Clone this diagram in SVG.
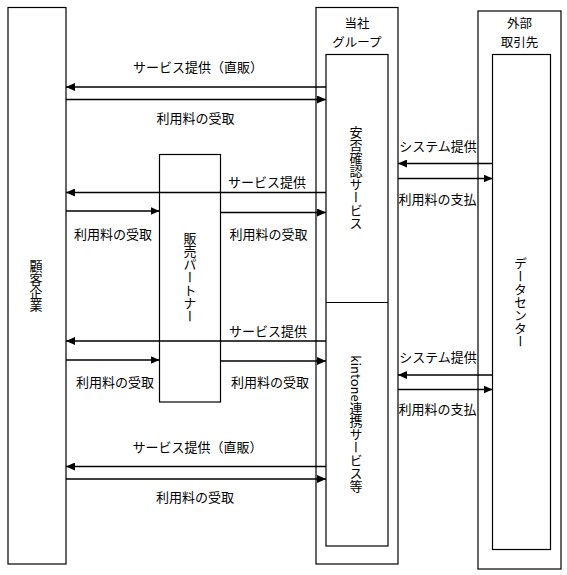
<svg xmlns="http://www.w3.org/2000/svg" width="567" height="575" viewBox="0 0 567 575">
<style>
.box{fill:#fff;stroke:#000;stroke-width:1.2}
.ln{stroke:#000;stroke-width:1.4;fill:none}
text{font-family:"Noto Sans CJK JP","Noto Sans",sans-serif;font-size:13px;fill:#000}
.h{text-anchor:middle;dominant-baseline:central}
.v{writing-mode:vertical-rl;text-anchor:middle}
</style>
<defs>
<marker id="ah" markerWidth="9" markerHeight="8" refX="9" refY="4" orient="auto" markerUnits="userSpaceOnUse">
<path d="M0,0 L9,4 L0,8 z" fill="#000"/>
</marker>
</defs>
<rect width="567" height="575" fill="#fff"/>
<g id="customer">
<rect class="box" x="8" y="7.5" width="58" height="556.5"/>
<text class="v" x="36" y="285.5">顧客企業</text>
</g>
<g id="group">
<rect class="box" x="316" y="7.5" width="82" height="556.5"/>
<text class="h" x="357" y="22.5" style="font-size:12.5px">当社</text>
<text class="h" x="357" y="41" style="font-size:12.5px">グループ</text>
</g>
<g id="services">
<rect class="box" x="326" y="54.5" width="62" height="491.5"/>
<line class="ln" x1="326" y1="302.5" x2="388" y2="302.5" style="stroke-width:1"/>
<text class="v" x="356" y="178">安否確認サービス</text>
<text class="v" x="356" y="424">kintone連携サービス等</text>
</g>
<g id="partner">
<rect class="box" x="159.5" y="154.5" width="61" height="247.5"/>
<text class="v" x="190" y="277.5">販売パートナー</text>
</g>
<g id="external">
<rect class="box" x="478" y="11" width="83" height="558"/>
<text class="h" x="519.5" y="22.5" style="font-size:12.5px">外部</text>
<text class="h" x="519.5" y="41" style="font-size:12.5px">取引先</text>
</g>
<g id="datacenter">
<rect class="box" x="492.5" y="54.5" width="58" height="495"/>
<text class="v" x="520.5" y="302">データセンター</text>
</g>
<g id="connectors">
<line class="ln" x1="326" y1="87" x2="66" y2="87" marker-end="url(#ah)"/>
<line class="ln" x1="66" y1="99.5" x2="326" y2="99.5" marker-end="url(#ah)"/>
<line class="ln" x1="326" y1="192.5" x2="66" y2="192.5" marker-end="url(#ah)"/>
<line class="ln" x1="66" y1="211" x2="159.5" y2="211" marker-end="url(#ah)"/>
<line class="ln" x1="220.5" y1="212.5" x2="326" y2="212.5" marker-end="url(#ah)"/>
<line class="ln" x1="326" y1="341" x2="66" y2="341" marker-end="url(#ah)"/>
<line class="ln" x1="66" y1="360" x2="159.5" y2="360" marker-end="url(#ah)"/>
<line class="ln" x1="220.5" y1="361" x2="326" y2="361" marker-end="url(#ah)"/>
<line class="ln" x1="326" y1="466.5" x2="66" y2="466.5" marker-end="url(#ah)"/>
<line class="ln" x1="66" y1="479" x2="326" y2="479" marker-end="url(#ah)"/>
<line class="ln" x1="492.5" y1="163.5" x2="398" y2="163.5" marker-end="url(#ah)"/>
<line class="ln" x1="398" y1="178.5" x2="492.5" y2="178.5" marker-end="url(#ah)"/>
<line class="ln" x1="492.5" y1="375" x2="398" y2="375" marker-end="url(#ah)"/>
<line class="ln" x1="398" y1="389.5" x2="492.5" y2="389.5" marker-end="url(#ah)"/>
<text class="h" x="198" y="66.5">サービス提供（直販）</text>
<text class="h" x="195.5" y="117">利用料の受取</text>
<text class="h" x="267" y="181.5">サービス提供</text>
<text class="h" x="113" y="233">利用料の受取</text>
<text class="h" x="268.5" y="233">利用料の受取</text>
<text class="h" x="268" y="330.5">サービス提供</text>
<text class="h" x="115" y="381">利用料の受取</text>
<text class="h" x="270" y="381">利用料の受取</text>
<text class="h" x="197.5" y="446.5">サービス提供（直販）</text>
<text class="h" x="195" y="496.5">利用料の受取</text>
<text class="h" x="438" y="145">システム提供</text>
<text class="h" x="437.5" y="198.5">利用料の支払</text>
<text class="h" x="438" y="356.5">システム提供</text>
<text class="h" x="437.5" y="408.5">利用料の支払</text>
</g>
</svg>
